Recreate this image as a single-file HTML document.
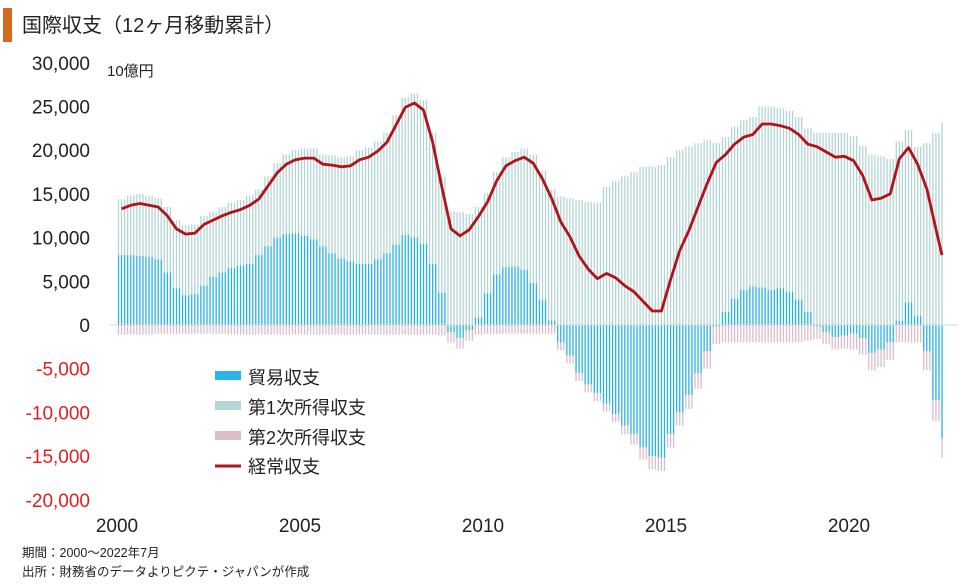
<!DOCTYPE html>
<html><head><meta charset="utf-8">
<style>
body{margin:0;background:#fff;}
svg{display:block;font-family:"Liberation Sans","Noto Sans CJK JP",sans-serif;}
</style></head>
<body>
<svg id="chart" width="968" height="584" viewBox="0 0 968 584">
  <rect x="3" y="8" width="9" height="34" fill="#d2691e"/>
  <text x="22" y="32" font-size="20" fill="#222">国際収支（12ヶ月移動累計）</text>
  <text x="107" y="76" font-size="15" fill="#222">10億円</text>
  <g id="bars"></g>
  <g id="yaxis"></g>
  <g id="xaxis"></g>
  <g id="lineg"></g>
  <g>
    <g><rect x="215" y="371" width="26" height="9" fill="#29b5e8"/><text x="248" y="384" font-size="18" fill="#222">貿易収支</text></g>
    <g><rect x="215" y="401" width="26" height="9" fill="#b5d6d6"/><text x="248" y="414" font-size="18" fill="#222">第1次所得収支</text></g>
    <g><rect x="215" y="431" width="26" height="9" fill="#dcbccb"/><text x="248" y="444" font-size="18" fill="#222">第2次所得収支</text></g>
    <g><line x1="215" y1="466" x2="241" y2="466" stroke="#b0141a" stroke-width="3"/><text x="248" y="473" font-size="18" fill="#222">経常収支</text></g>
  </g>
  <text x="22" y="557" font-size="12.5" fill="#222">期間：2000～2022年7月</text>
  <text x="22" y="576" font-size="12.5" fill="#222">出所：財務省のデータよりピクテ・ジャパンが作成</text>
</svg>
<script>
// quarterly values, 2000Q1 .. 2022Q3 (10 billion yen)
const yearLabels = ["2000","2005","2010","2015","2020"];
const yTicks = [30000,25000,20000,15000,10000,5000,0,-5000,-10000,-15000,-20000];
const trade = [8000,8000,7900,7800, 7500,6000,4200,3400, 3500,4500,5500,6000, 6500,6800,7000,8000,
 9000,10000,10400,10500, 10200,9800,9000,8200, 7600,7300,7000,7000, 7500,8200,9200,10300,
 10000,9300,7000,3700, -800,-1500,-600,800, 3600,5800,6600,6700, 6300,4800,2900,500,
 -2000,-3500,-5500,-6800, -7800,-9000,-10200,-11500, -12500,-14000,-15000,-15200, -12500,-10000,-8000,-5500,
 -3000,-200,1500,3000, 4000,4400,4300,4000, 4200,3800,2900,1500, -200,-800,-1400,-1200,
 -1000,-1500,-3200,-2800, -2000,500,2600,1000, -3000,-8600,-13000];
const primary = [6400,6800,7100,7000, 7000,7500,7800,8000, 8000,8000,7500,7500, 7500,7500,7800,7500,
 8000,8500,9100,9500, 10000,10400,10500,11200, 11600,12000,13000,13300, 13500,13800,14800,15700,
 16500,16400,15000,13300, 13000,12900,12700,12700, 11500,11700,12600,13100, 13900,14700,14800,15000,
 14700,14500,14300,14100, 14000,15800,16500,17000, 17500,18100,18100,18300, 19200,20000,20400,20800,
 21200,20800,20000,19700, 19500,19400,20700,21000, 20600,20700,20900,21000, 22000,22000,22000,22000,
 21600,20500,19500,19300, 19000,20500,19700,19400, 20800,22000,23200];
const secondary = [-1100,-1100,-1100,-1100, -1000,-1000,-1000,-1000, -1000,-1000,-1000,-1000, -1100,-1100,-1100,-1100,
 -1100,-1100,-1100,-1100, -1100,-1100,-1100,-1100, -1100,-1100,-1100,-1100, -1100,-1100,-1100,-1100,
 -1100,-1100,-1100,-1200, -1200,-1200,-1200,-1100, -1000,-1000,-1000,-1000, -1000,-1000,-1000,-1000,
 -900,-900,-900,-900, -900,-900,-900,-1000, -1200,-1400,-1500,-1500, -1500,-1500,-1600,-1800,
 -2000,-2000,-2000,-2000, -2000,-2000,-2000,-2000, -2000,-2000,-2000,-1800, -1400,-1400,-1400,-1500,
 -1800,-1900,-2000,-2000, -2000,-2000,-2000,-2000, -2200,-2400,-2200];

const NS="http://www.w3.org/2000/svg";
const x0=117, pxYear=36.6, y0=325, pxPer=43.7/5000;
function xOfYear(t){return x0+(t-2000)*pxYear;}
function yOf(v){return y0-v*pxPer;}
function mk(tag,attrs,parent){const e=document.createElementNS(NS,tag);for(const k in attrs)e.setAttribute(k,attrs[k]);parent.appendChild(e);return e;}

const bars=document.getElementById('bars');
const nMonths=(trade.length-1)*3+1;
for(let m=0;m<nMonths;m++){
  const q=Math.floor(m/3);
  const x=xOfYear(2000+(m+0.5)/12)-0.65;
  const t=trade[q], p=primary[q], s=secondary[q];
  const tp=Math.max(t,0);
  const r1=mk('rect',{x:x,y:yOf(tp+p),width:1.3,height:p*pxPer,fill:'#b3d4d5'},bars);
  
  
  if(t!==0){
    const r2=mk('rect',{x:x,y:t>0?yOf(t):y0,width:1.3,height:Math.abs(t)*pxPer,fill:'#27b2e4'},bars);
    
    
  }
  const tn=Math.min(t,0);
  const r3=mk('rect',{x:x,y:yOf(tn),width:1.3,height:Math.abs(s)*pxPer,fill:'#dbbccb'},bars);
  
  
}
const zl=mk('line',{x1:110,x2:958,y1:y0,y2:y0,stroke:'#ccd8d8','stroke-width':1},bars);



const ya=document.getElementById('yaxis');
yTicks.forEach(v=>{
  const t=mk('text',{x:90,y:yOf(v)+7,'font-size':19,'text-anchor':'end',fill:v<0?'#e02020':'#222'},ya);
  t.textContent=v.toLocaleString('en-US');
  
  
});
const xa=document.getElementById('xaxis');
yearLabels.forEach(l=>{
  const t=mk('text',{x:xOfYear(+l),y:532,'font-size':19,'text-anchor':'middle',fill:'#222'},xa);
  t.textContent=l;
  
  
});

const pts=trade.map((t,q)=>{
  const ca=t+primary[q]+secondary[q];
  const tt= q===trade.length-1 ? 2000+(nMonths-0.5)/12 : 2000+q/4+0.125;
  return xOfYear(tt).toFixed(1)+','+yOf(ca).toFixed(1);
});
const pl=mk('polyline',{points:pts.join(' '),fill:'none',stroke:'#b0141a','stroke-width':2.8,'stroke-linejoin':'round'},document.getElementById('lineg'));


</script>
</body></html>
